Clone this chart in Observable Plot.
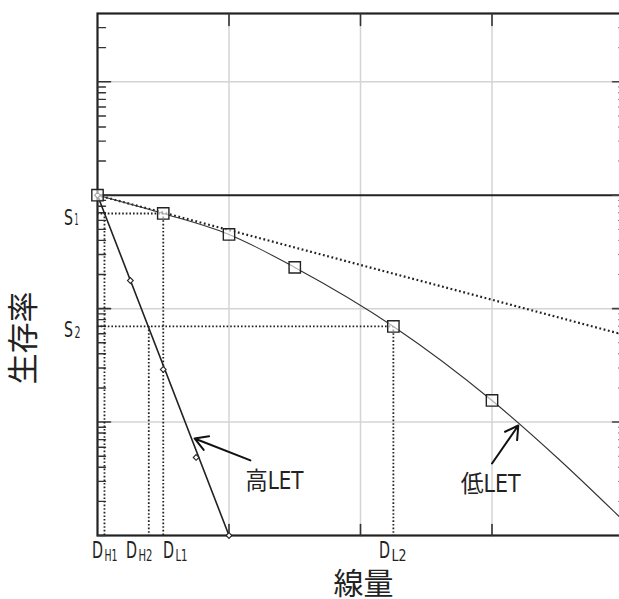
<!DOCTYPE html>
<html><head><meta charset="utf-8">
<script src="https://cdn.jsdelivr.net/npm/d3@7"></script>
<script src="https://cdn.jsdelivr.net/npm/@observablehq/plot@0.6"></script>
<style>html,body{margin:0;padding:0;background:#fff;overflow:hidden}svg{display:block}</style>
</head><body><div id="chart"></div>
<script>
// Low-LET survival curve (squares) and the fitted curve through them
const lowDose = [0, 0.5, 1.0, 1.5, 2.25, 3.0];
const lowSurv = [1, 0.69, 0.451, 0.231, 0.0697, 0.0155];
const lowCurveDose = [0, 0.5, 1.0, 1.5, 2.25, 3.0, 3.5, 4.0];
const lowCurveSurv = [1, 0.69, 0.451, 0.231, 0.0697, 0.0155, 0.0048, 0.00135];
// High-LET survival (diamonds) and straight line
const highDose = [0, 0.25, 0.5, 0.75, 1.0];
const highSurv = [1, 0.177, 0.0291, 0.00488, 0.001];
const highLineDose = [0, 1.0];
const highLineSurv = [1, 0.001];
// Initial-slope extension (dotted)
const slopeDose = [0, 4.0];
const slopeSurv = [1, 0.059];
// Reference levels S1, S2
const sMain = ["S", "S"];
const sSub = ["1", "2"];
const sValues = [0.69, 0.0697];
const sEnd = [0.5, 2.25];
// Reference doses DH1, DH2, DL1, DL2
const dMain = ["D", "D", "D", "D"];
const dSub = ["H1", "H2", "L1", "L2"];
const dValues = [0.053, 0.39, 0.5, 2.25];
const dLabelPos = [0.046, 0.304, 0.585, 2.228];
const dLevel = [0.69, 0.0697, 0.69, 0.0697];
// Annotations
const annLabels = ["高LET", "低LET"];
const annDose = [1.346, 2.99];
const annSurv = [0.00299, 0.00282];
const arrowFromDose = [1.163, 3.0];
const arrowFromSurv = [0.00459, 0.00431];
const arrowToDose = [0.738, 3.2];
const arrowToSurv = [0.00717, 0.00933];
// Axis ticks
const gridX = [1, 2, 3];
const gridY = [10, 0.1, 0.01];
const majorY = [10, 1, 0.1, 0.01];

const yDomain = [0.001, 40];
const minorY = d3.scaleLog().domain(yDomain).ticks().filter(v => v < 40 && !majorY.includes(v));

const lowPts = lowDose.map((d, i) => ({d, s: lowSurv[i]}));
const lowCurve = lowCurveDose.map((d, i) => ({d, s: lowCurveSurv[i]}));
const highPts = highDose.map((d, i) => ({d, s: highSurv[i]}));
const highLine = highLineDose.map((d, i) => ({d, s: highLineSurv[i]}));
const slope = slopeDose.map((d, i) => ({d, s: slopeSurv[i]}));
const sRefs = sValues.map((s, i) => ({s, main: sMain[i], sub: sSub[i], end: sEnd[i]}));
const dRefs = dValues.map((d, i) => ({d, main: dMain[i], sub: dSub[i], pos: dLabelPos[i], level: dLevel[i]}));
const anns = annLabels.map((t, i) => ({t, d: annDose[i], s: annSurv[i]}));
const arrows = annLabels.map((t, i) => ({x1: arrowFromDose[i], y1: arrowFromSurv[i], x2: arrowToDose[i], y2: arrowToSurv[i]}));

// condensed widths of the narrow-font labels
const narrowWidth = {"D": 11, "S": 9, "H1": 13, "H2": 14, "L1": 12, "L2": 15, "1": 4, "2": 6, "高LET": 58, "低LET": 60};

const tickShape = {draw(ctx, l) { ctx.moveTo(0, 0); ctx.lineTo(0, -l); }};
const dark = "#222";
const latin = "'Liberation Sans Narrow','DejaVu Sans Condensed','Noto Sans CJK JP',sans-serif";
const cjk = "'Noto Sans CJK JP',sans-serif";
const dotted = "1.6,2";

const svg = Plot.plot({
  width: 619, height: 599,
  marginTop: 13, marginBottom: 64, marginLeft: 97, marginRight: -4,
  x: {domain: [0, 4], axis: null},
  y: {type: "log", domain: yDomain, axis: null},
  marks: [
    Plot.ruleX(gridX, {stroke: "#d4d4d4", strokeWidth: 1.5}),
    Plot.ruleY(gridY, {stroke: "#d4d4d4", strokeWidth: 1.5}),
    Plot.ruleY([1], {stroke: dark, strokeWidth: 2}),
    Plot.frame({stroke: dark, strokeWidth: 2.2}),
    // ticks
    Plot.vector(minorY, {y: d => d, frameAnchor: "left", length: 8, rotate: 90, anchor: "start", shape: tickShape, stroke: "#333", strokeWidth: 1.4}),
    Plot.vector(majorY, {y: d => d, frameAnchor: "left", length: 13, rotate: 90, anchor: "start", shape: tickShape, stroke: "#333", strokeWidth: 1.6}),
    Plot.vector(minorY, {y: d => d, frameAnchor: "right", length: 6, rotate: -90, anchor: "start", shape: tickShape, stroke: "#444", strokeWidth: 1.4, strokeDasharray: "1.5,1.5"}),
    Plot.vector(majorY, {y: d => d, frameAnchor: "right", length: 11, rotate: -90, anchor: "start", shape: tickShape, stroke: "#444", strokeWidth: 1.6}),
    Plot.vector(gridX, {x: d => d, frameAnchor: "top", length: 12, rotate: 180, anchor: "start", shape: tickShape, stroke: "#333", strokeWidth: 1.6}),
    Plot.vector(gridX, {x: d => d, frameAnchor: "bottom", length: 11, rotate: 0, anchor: "start", shape: tickShape, stroke: "#333", strokeWidth: 1.6}),
    // reference dotted lines
    Plot.ruleY(sRefs, {y: "s", x1: 0, x2: "end", stroke: dark, strokeWidth: 1.8, strokeDasharray: dotted}),
    Plot.ruleX(dRefs, {x: "d", y1: "level", y2: yDomain[0], stroke: dark, strokeWidth: 1.8, strokeDasharray: dotted}),
    // initial slope
    Plot.line(slope, {x: "d", y: "s", stroke: dark, strokeWidth: 2.2, strokeDasharray: "1.8,2.6", strokeLinecap: "butt"}),
    // curves
    Plot.line(lowCurve, {x: "d", y: "s", curve: "monotone-x", stroke: "#333", strokeWidth: 1.1}),
    Plot.line(highLine, {x: "d", y: "s", stroke: dark, strokeWidth: 1.6}),
    Plot.dot(highPts, {x: "d", y: "s", symbol: "diamond2", r: 2.6, stroke: dark, fill: "white", strokeWidth: 1.1}),
    Plot.dot(lowPts, {x: "d", y: "s", symbol: "square", r: 6.4, stroke: dark, fill: "white", fillOpacity: 0.6, strokeWidth: 1.4}),
    // annotations
    Plot.arrow(arrows, {x1: "x1", y1: "y1", x2: "x2", y2: "y2", stroke: "#111", strokeWidth: 2, headLength: 11}),
    Plot.text(anns, {x: "d", y: "s", text: "t", fontSize: 24, fontFamily: latin, fill: "#222"}),
    // S labels (main letter + subscript)
    Plot.text(sRefs, {y: "s", frameAnchor: "left", text: "main", textAnchor: "end", dx: -24.5, dy: 4, fontSize: 22, fontFamily: latin, fill: "#222"}),
    Plot.text(sRefs, {y: "s", frameAnchor: "left", text: "sub", textAnchor: "start", dx: -23, dy: 7, fontSize: 15, fontFamily: latin, fill: "#222"}),
    // D labels (main letter + subscript)
    Plot.text(dRefs, {x: "pos", frameAnchor: "bottom", text: "main", textAnchor: "end", dx: -0.5, dy: 22, fontSize: 23, fontFamily: latin, fill: "#222"}),
    Plot.text(dRefs, {x: "pos", frameAnchor: "bottom", text: "sub", textAnchor: "start", dx: 1, dy: 25.5, fontSize: 16, fontFamily: latin, fill: "#222"}),
    // axis titles
    Plot.text(["線量"], {frameAnchor: "bottom", dx: 3, dy: 58, fontSize: 30, fontFamily: cjk, fill: "#222"}),
    Plot.text(["生存率"], {frameAnchor: "left", dx: -73, dy: 110, rotate: -90, fontSize: 31, fontFamily: cjk, fill: "#222"})
  ]
});

// condensed widths
d3.select(svg).selectAll("text").each(function() {
  const t = this.textContent;
  if (narrowWidth[t]) {
    this.setAttribute("textLength", narrowWidth[t]);
    this.setAttribute("lengthAdjust", "spacingAndGlyphs");
  }
});
document.getElementById("chart").appendChild(svg);
</script>
</body></html>
